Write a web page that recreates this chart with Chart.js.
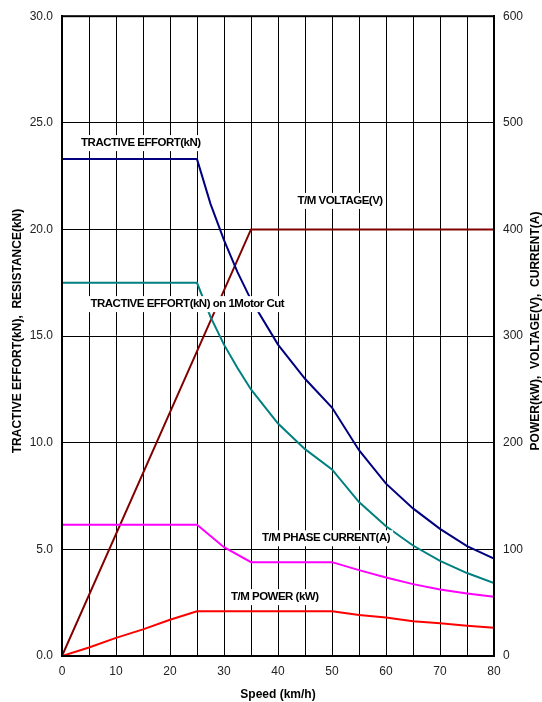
<!DOCTYPE html>
<html>
<head>
<meta charset="utf-8">
<script src="https://cdn.jsdelivr.net/npm/chart.js@4/dist/chart.umd.min.js"></script>
<style>
  html, body { margin: 0; padding: 0; background: #fff; }
  canvas { display: block; }
</style>
</head>
<body>
<canvas id="grafico" width="542" height="702"></canvas>
<script>
// values (speed in km/h)
const speeds = [0, 5, 10, 15, 20, 25, 27.5, 30, 32.5, 35, 40, 45, 50, 55, 60, 65, 70, 75, 80];
const tractiveEffort = [23.3, 23.3, 23.3, 23.3, 23.3, 23.3, 21.2, 19.5, 18.0, 16.7, 14.6, 13.0, 11.65, 9.65, 8.08, 6.92, 5.96, 5.15, 4.57];
const tractiveOneCut = [17.5, 17.5, 17.5, 17.5, 17.5, 17.5, 15.9, 14.6, 13.5, 12.5, 10.9, 9.7, 8.75, 7.22, 6.08, 5.18, 4.46, 3.89, 3.42];
const voltageSpeeds = [0, 35, 80];
const voltage = [0, 400, 400];
const currentSpeeds = [0, 25, 30, 35, 50, 55, 60, 65, 70, 75, 80];
const phaseCurrent = [123, 123, 102, 88, 88, 80.5, 73.7, 67.4, 62.4, 58.7, 55.5];
const powerSpeeds = [0, 5, 10, 15, 20, 25, 50, 55, 60, 65, 70, 75, 80];
const power = [0, 8, 17, 25, 34, 42, 42, 38.4, 36.2, 32.5, 30.6, 28.4, 26.5];

function pares(xs, ys) {
    return xs.map((x, i) => ({ x, y: ys[i] }));
}

const etiquetas = [
    { texto: 'TRACTIVE EFFORT(kN)', x: 14.6, y: 24.05 },
    { texto: 'T/M VOLTAGE(V)', x: 51.5, y: 21.34 },
    { texto: 'TRACTIVE EFFORT(kN) on 1Motor Cut', x: 23.2, y: 16.5 },
    { texto: 'T/M PHASE CURRENT(A)', x: 48.9, y: 5.52 },
    { texto: 'T/M POWER (kW)', x: 39.4, y: 2.76 }
];

const fuente = '"Liberation Sans", Arial, sans-serif';

const pluginExtras = {
    id: 'extras',
    afterDatasetsDraw(chart) {
        const ctx = chart.ctx;
        const xs = chart.scales.x;
        const ys = chart.scales.y;
        ctx.save();
        ctx.font = 'bold 11.5px ' + fuente;
        ctx.letterSpacing = '-0.5px';
        ctx.textAlign = 'center';
        ctx.textBaseline = 'middle';
        etiquetas.forEach(e => {
            const px = xs.getPixelForValue(e.x);
            const py = ys.getPixelForValue(e.y);
            const w = ctx.measureText(e.texto).width;
            ctx.fillStyle = '#fff';
            ctx.fillRect(px - w / 2 - 3, py - 8, w + 6, 16);
            ctx.fillStyle = '#000';
            ctx.fillText(e.texto, px, py);
        });
        ctx.restore();
    },
    afterDraw(chart) {
        const ctx = chart.ctx;
        const a = chart.chartArea;
        ctx.save();
        ctx.strokeStyle = '#000';
        ctx.lineWidth = 2;
        ctx.strokeRect(a.left, a.top, a.right - a.left, a.bottom - a.top);
        // both axis titles read bottom to top
        ctx.font = 'bold 12px ' + fuente;
        ctx.fillStyle = '#000';
        ctx.textAlign = 'center';
        ctx.textBaseline = 'middle';
        const titulos = [
            { texto: 'TRACTIVE EFFORT(kN),  RESISTANCE(kN)', x: 18 },
            { texto: 'POWER(kW),  VOLTAGE(V),  CURRENT(A)', x: 536 }
        ];
        titulos.forEach(t => {
            ctx.save();
            ctx.translate(t.x, 331);
            ctx.rotate(-Math.PI / 2);
            ctx.fillText(t.texto, 0, 0);
            ctx.restore();
        });
        ctx.restore();
    }
};

function serie(label, data, color, eje) {
    return {
        label,
        data,
        borderColor: color,
        backgroundColor: color,
        borderWidth: 2,
        pointRadius: 0,
        tension: 0,
        yAxisID: eje
    };
}

const ctx = document.getElementById('grafico').getContext('2d');

new Chart(ctx, {
    type: 'line',
    data: {
        datasets: [
            serie('T/M POWER (kW)', pares(powerSpeeds, power), '#ff0000', 'y1'),
            serie('T/M PHASE CURRENT(A)', pares(currentSpeeds, phaseCurrent), '#ff00ff', 'y1'),
            serie('TRACTIVE EFFORT(kN) on 1Motor Cut', pares(speeds, tractiveOneCut), '#008080', 'y'),
            serie('TRACTIVE EFFORT(kN)', pares(speeds, tractiveEffort), '#000080', 'y'),
            serie('T/M VOLTAGE(V)', pares(voltageSpeeds, voltage), '#800000', 'y1')
        ]
    },
    options: {
        responsive: false,
        animation: false,
        layout: { padding: { top: 15, left: 0, right: 0, bottom: 0 } },
        plugins: {
            legend: { display: false },
            tooltip: { enabled: false }
        },
        scales: {
            x: {
                type: 'linear',
                min: 0,
                max: 80,
                grid: { color: '#000', lineWidth: 1, drawTicks: false },
                border: { color: '#000', width: 2 },
                ticks: {
                    stepSize: 5,
                    padding: 8,
                    color: '#222',
                    maxRotation: 0,
                    autoSkip: false,
                    font: { family: fuente, size: 12 },
                    callback: v => (v % 10 === 0 ? v : '')
                },
                title: {
                    display: true,
                    text: 'Speed (km/h)',
                    color: '#000',
                    font: { family: fuente, size: 12, weight: 'bold' },
                    padding: { top: 0, bottom: 0 }
                },
                afterFit: s => { s.height = 46; }
            },
            y: {
                position: 'left',
                min: 0,
                max: 30,
                grid: { color: '#000', lineWidth: 1, drawTicks: false },
                border: { color: '#000', width: 2 },
                ticks: {
                    stepSize: 5,
                    padding: 9,
                    color: '#222',
                    font: { family: fuente, size: 12 },
                    callback: v => v.toFixed(1)
                },
                afterFit: s => { s.width = 62; }
            },
            y1: {
                position: 'right',
                min: 0,
                max: 600,
                grid: { display: false, drawTicks: false },
                border: { color: '#000', width: 2 },
                ticks: {
                    stepSize: 100,
                    padding: 9,
                    color: '#222',
                    font: { family: fuente, size: 12 }
                },
                afterFit: s => { s.width = 48; }
            }
        }
    },
    plugins: [pluginExtras]
});
</script>
</body>
</html>
